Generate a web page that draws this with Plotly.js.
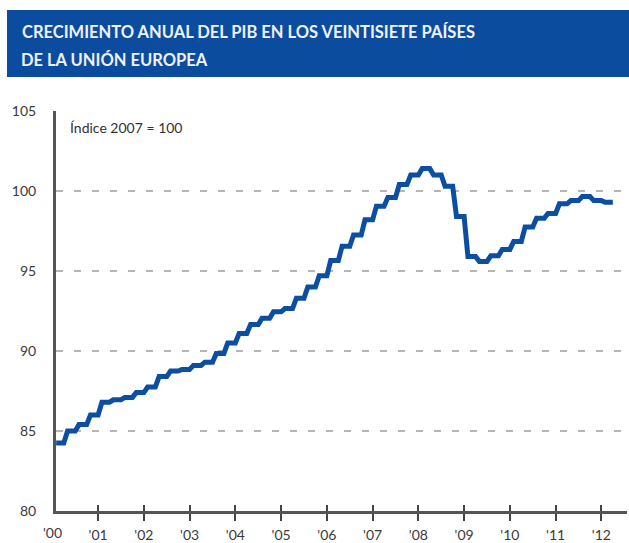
<!DOCTYPE html>
<html>
<head>
<meta charset="utf-8">
<script src="https://cdn.plot.ly/plotly-3.0.1.min.js"></script>
<style>
  html, body { margin: 0; padding: 0; background: #ffffff; }
  #chart { width: 629px; height: 543px; }
</style>
</head>
<body>
<div id="chart"></div>
<script>
// ---- Data ----
const startYear = 2000;
// Quarterly GDP index, EU-27 (2007 = 100), 2000 T1 ... 2012 T1
const gdpIndex = [
  84.25, 85.0, 85.4, 86.0,     // 2000
  86.8, 86.95, 87.1, 87.4,     // 2001
  87.75, 88.4, 88.75, 88.85,   // 2002
  89.1, 89.3, 89.85, 90.5,     // 2003
  91.1, 91.65, 92.05, 92.45,   // 2004
  92.65, 93.3, 94.0, 94.7,     // 2005
  95.65, 96.55, 97.25, 98.2,   // 2006
  99.05, 99.6, 100.4, 101.0,   // 2007
  101.4, 101.0, 100.3, 98.4,   // 2008
  95.9, 95.6, 95.95, 96.35,    // 2009
  96.85, 97.75, 98.3, 98.6,    // 2010
  99.2, 99.4, 99.65, 99.4,     // 2011
  99.3                         // 2012
];
const tickYears = [2000, 2001, 2002, 2003, 2004, 2005, 2006, 2007, 2008, 2009, 2010, 2011, 2012];
const tickLabels = ["'00", "'01", "'02", "'03", "'04", "'05", "'06", "'07", "'08", "'09", "'10", "'11", "'12"];
const yTicks = [80, 85, 90, 95, 100, 105];
const titleLines = ['CRECIMIENTO ANUAL DEL PIB EN LOS VEINTISIETE PAÍSES', 'DE LA UNIÓN EUROPEA'];
const noteText = 'Índice 2007 = 100';

// Each quarterly value is held over the three months of its quarter (staircase look)
const xs = [], ys = [];
gdpIndex.forEach((v, k) => {
  for (let m = 1; m <= 3; m++) {
    xs.push(startYear + (3 * k + m) / 12);
    ys.push(v);
  }
});

const xRange = [2000.08, 2012.56];
const inRange = tickYears.filter(y => y >= xRange[0]);
const inLabels = tickLabels.filter((t, i) => tickYears[i] >= xRange[0]);

const blue = '#0b4ea2';
const axisColor = '#555555';
const font = 'Lato, "Noto Sans", "DejaVu Sans", sans-serif';
const titleFont = { family: font, size: 16.5, weight: 'bold', color: '#eef2fa' };
const tickFont = { family: font, size: 14, color: '#3a3a3a' };

const traces = [
  {
    x: xs, y: ys, type: 'scatter', mode: 'lines',
    line: { color: blue, width: 5, shape: 'linear' },
    hoverinfo: 'x+y', showlegend: false
  },
  { x: [], y: [], xaxis: 'x2', type: 'scatter', mode: 'lines', showlegend: false, hoverinfo: 'skip' }
];

const layout = {
  width: 629, height: 543,
  margin: { l: 56, r: 2, t: 111, b: 32 },
  paper_bgcolor: '#ffffff', plot_bgcolor: '#ffffff',
  font: { family: font, color: '#3a3a3a', size: 13 },
  showlegend: false,
  title: {
    text: titleLines[0],
    font: titleFont,
    xref: 'container', yref: 'container',
    x: 0.035, xanchor: 'left',
    y: 0.940, yanchor: 'middle',
    automargin: false
  },
  xaxis: {
    range: xRange, type: 'linear',
    tickmode: 'array', tickvals: inRange, ticktext: inLabels,
    ticks: 'outside', ticklen: 7, tickwidth: 2, tickcolor: '#444',
    ticklabelstandoff: 2,
    showline: true, linecolor: axisColor, linewidth: 3,
    showgrid: false, zeroline: false,
    tickfont: tickFont,
    fixedrange: true
  },
  xaxis2: {
    overlaying: 'x', matches: 'x', anchor: 'y', side: 'bottom',
    tickmode: 'array', tickvals: inRange,
    ticks: 'inside', ticklen: 6, tickwidth: 2, tickcolor: '#444',
    showticklabels: false, showline: false, showgrid: false, zeroline: false
  },
  yaxis: {
    range: [80, 105], tickmode: 'array', tickvals: yTicks,
    ticks: '', ticklabelstandoff: 14,
    showline: true, linecolor: axisColor, linewidth: 3,
    showgrid: true, gridcolor: '#b5b5b5', gridwidth: 2, griddash: '7px,11px',
    zeroline: false,
    tickfont: tickFont,
    fixedrange: true
  },
  shapes: [
    {
      type: 'rect', xref: 'paper', yref: 'paper',
      x0: -0.0858, x1: 1.01, y0: 1.085, y1: 1.2525,
      fillcolor: '#0c4c9f', line: { width: 0 }, layer: 'below'
    }
  ],
  annotations: [
    {
      text: titleLines[1], xref: 'paper', yref: 'paper',
      x: -0.0648, y: 1.1275, xanchor: 'left', yanchor: 'middle',
      showarrow: false, font: titleFont
    },
    {
      text: noteText, xref: 'paper', yref: 'paper',
      x: 0.021, y: 0.96, xanchor: 'left', yanchor: 'middle',
      showarrow: false, font: { family: font, size: 14, color: '#333333' }
    },
    {
      text: tickLabels[0], xref: 'paper', yref: 'paper',
      x: (tickYears[0] - xRange[0]) / (xRange[1] - xRange[0]), y: 0,
      xanchor: 'center', yanchor: 'top', yshift: -11,
      showarrow: false, font: tickFont
    }
  ]
};

Plotly.newPlot('chart', traces, layout, { displayModeBar: false, staticPlot: true });
</script>
</body>
</html>
